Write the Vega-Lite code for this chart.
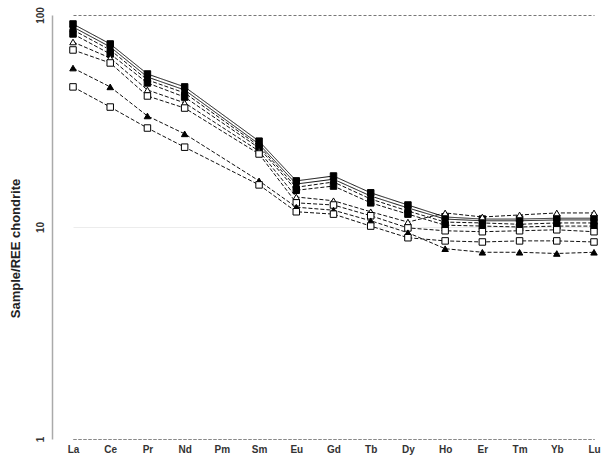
{
  "$schema": "https://vega.github.io/schema/vega-lite/v6.json",
  "autosize": {"type": "none"},
  "padding": {"left": 52, "top": 15, "right": 0, "bottom": 23},
  "width": 553,
  "height": 424,
  "background": "white",
  "config": {"view": {"stroke": null}, "font": "Liberation Sans"},
  "datasets": {
    "ree": [
      {"s": "A", "el": "La", "v": 90.7}, {"s": "A", "el": "Ce", "v": 73.0}, {"s": "A", "el": "Pr", "v": 52.7}, {"s": "A", "el": "Nd", "v": 45.8}, {"s": "A", "el": "Sm", "v": 25.4}, {"s": "A", "el": "Eu", "v": 16.5}, {"s": "A", "el": "Gd", "v": 17.4}, {"s": "A", "el": "Tb", "v": 14.5}, {"s": "A", "el": "Dy", "v": 12.7}, {"s": "A", "el": "Ho", "v": 11.15}, {"s": "A", "el": "Er", "v": 10.9}, {"s": "A", "el": "Tm", "v": 10.9}, {"s": "A", "el": "Yb", "v": 11.0}, {"s": "A", "el": "Lu", "v": 11.0},
      {"s": "B", "el": "La", "v": 87.8}, {"s": "B", "el": "Ce", "v": 70.7}, {"s": "B", "el": "Pr", "v": 51.0}, {"s": "B", "el": "Nd", "v": 44.3}, {"s": "B", "el": "Sm", "v": 24.6}, {"s": "B", "el": "Eu", "v": 15.95}, {"s": "B", "el": "Gd", "v": 16.8}, {"s": "B", "el": "Tb", "v": 14.0}, {"s": "B", "el": "Dy", "v": 12.3}, {"s": "B", "el": "Ho", "v": 10.9}, {"s": "B", "el": "Er", "v": 10.7}, {"s": "B", "el": "Tm", "v": 10.7}, {"s": "B", "el": "Yb", "v": 10.8}, {"s": "B", "el": "Lu", "v": 10.8},
      {"s": "C", "el": "La", "v": 85.0}, {"s": "C", "el": "Ce", "v": 68.4}, {"s": "C", "el": "Pr", "v": 49.4}, {"s": "C", "el": "Nd", "v": 42.9}, {"s": "C", "el": "Sm", "v": 24.1}, {"s": "C", "el": "Eu", "v": 15.4}, {"s": "C", "el": "Gd", "v": 16.3}, {"s": "C", "el": "Tb", "v": 13.55}, {"s": "C", "el": "Dy", "v": 11.9}, {"s": "C", "el": "Ho", "v": 10.55}, {"s": "C", "el": "Er", "v": 10.45}, {"s": "C", "el": "Tm", "v": 10.3}, {"s": "C", "el": "Yb", "v": 10.45}, {"s": "C", "el": "Lu", "v": 10.45},
      {"s": "D", "el": "La", "v": 81.4}, {"s": "D", "el": "Ce", "v": 65.5}, {"s": "D", "el": "Pr", "v": 47.8}, {"s": "D", "el": "Nd", "v": 41.0}, {"s": "D", "el": "Sm", "v": 23.6}, {"s": "D", "el": "Eu", "v": 14.9}, {"s": "D", "el": "Gd", "v": 15.6}, {"s": "D", "el": "Tb", "v": 13.0}, {"s": "D", "el": "Dy", "v": 11.5}, {"s": "D", "el": "Ho", "v": 10.2}, {"s": "D", "el": "Er", "v": 10.1}, {"s": "D", "el": "Tm", "v": 10.0}, {"s": "D", "el": "Yb", "v": 10.1}, {"s": "D", "el": "Lu", "v": 10.1},
      {"s": "E", "el": "La", "v": 74.6}, {"s": "E", "el": "Ce", "v": 62.7}, {"s": "E", "el": "Pr", "v": 44.3}, {"s": "E", "el": "Nd", "v": 38.5}, {"s": "E", "el": "Sm", "v": 22.8}, {"s": "E", "el": "Eu", "v": 13.85}, {"s": "E", "el": "Gd", "v": 13.3}, {"s": "E", "el": "Tb", "v": 11.8}, {"s": "E", "el": "Dy", "v": 10.55}, {"s": "E", "el": "Ho", "v": 11.65}, {"s": "E", "el": "Er", "v": 11.15}, {"s": "E", "el": "Tm", "v": 11.4}, {"s": "E", "el": "Yb", "v": 11.65}, {"s": "E", "el": "Lu", "v": 11.65},
      {"s": "F", "el": "La", "v": 68.4}, {"s": "F", "el": "Ce", "v": 59.4}, {"s": "F", "el": "Pr", "v": 41.5}, {"s": "F", "el": "Nd", "v": 36.4}, {"s": "F", "el": "Sm", "v": 22.1}, {"s": "F", "el": "Eu", "v": 13.0}, {"s": "F", "el": "Gd", "v": 12.7}, {"s": "F", "el": "Tb", "v": 11.3}, {"s": "F", "el": "Dy", "v": 9.9}, {"s": "F", "el": "Ho", "v": 9.6}, {"s": "F", "el": "Er", "v": 9.5}, {"s": "F", "el": "Tm", "v": 9.6}, {"s": "F", "el": "Yb", "v": 9.7}, {"s": "F", "el": "Lu", "v": 9.5},
      {"s": "G", "el": "La", "v": 56.2}, {"s": "G", "el": "Ce", "v": 45.8}, {"s": "G", "el": "Pr", "v": 33.4}, {"s": "G", "el": "Nd", "v": 27.5}, {"s": "G", "el": "Sm", "v": 16.5}, {"s": "G", "el": "Eu", "v": 12.4}, {"s": "G", "el": "Gd", "v": 12.0}, {"s": "G", "el": "Tb", "v": 10.7}, {"s": "G", "el": "Dy", "v": 9.4}, {"s": "G", "el": "Ho", "v": 7.9}, {"s": "G", "el": "Er", "v": 7.6}, {"s": "G", "el": "Tm", "v": 7.6}, {"s": "G", "el": "Yb", "v": 7.5}, {"s": "G", "el": "Lu", "v": 7.6},
      {"s": "H", "el": "La", "v": 45.8}, {"s": "H", "el": "Ce", "v": 36.8}, {"s": "H", "el": "Pr", "v": 29.3}, {"s": "H", "el": "Nd", "v": 23.8}, {"s": "H", "el": "Sm", "v": 15.8}, {"s": "H", "el": "Eu", "v": 11.8}, {"s": "H", "el": "Gd", "v": 11.5}, {"s": "H", "el": "Tb", "v": 10.1}, {"s": "H", "el": "Dy", "v": 8.9}, {"s": "H", "el": "Ho", "v": 8.6}, {"s": "H", "el": "Er", "v": 8.5}, {"s": "H", "el": "Tm", "v": 8.6}, {"s": "H", "el": "Yb", "v": 8.6}, {"s": "H", "el": "Lu", "v": 8.5}
    ]
  },
  "data": {"name": "ree"},
  "encoding": {
    "x": {
      "field": "el", "type": "nominal", "sort": null,
      "scale": {"type": "point", "domain": ["La", "Ce", "Pr", "Nd", "Pm", "Sm", "Eu", "Gd", "Tb", "Dy", "Ho", "Er", "Tm", "Yb", "Lu"], "range": [21, 542], "padding": 0},
      "axis": {"title": null, "labelAngle": 0, "ticks": false, "labelPadding": 5, "labelFontSize": 10, "labelFontWeight": "bold", "labelColor": "#333", "domainColor": "#888", "domainDash": [3, 2], "domainWidth": 1, "grid": false}
    },
    "y": {
      "field": "v", "type": "quantitative",
      "scale": {"type": "log", "domain": [1, 100], "nice": false},
      "axis": {
        "title": "Sample/REE chondrite", "titleFontSize": 13, "titleFontWeight": "bold", "titleColor": "#222",
        "titleAngle": -90, "titleX": -37, "titleY": 233, "titleAlign": "center", "titleBaseline": "middle",
        "values": [1, 10, 100], "format": "d", "ticks": false,
        "labelAngle": -90, "labelAlign": "center", "labelBaseline": "alphabetic", "labelPadding": 9,
        "labelFontSize": 10, "labelFontWeight": "bold", "labelColor": "#333",
        "domainColor": "#aaa", "domainWidth": 1.5,
        "grid": true,
        "gridColor": {"condition": {"test": "datum.value === 10", "value": "#ececec"}, "value": "#777"},
        "gridDash": {"condition": {"test": "datum.value === 10", "value": []}, "value": [3, 2]},
        "gridWidth": 1
      }
    }
  },
  "layer": [
    {
      "mark": {"type": "line", "strokeWidth": 1, "color": "#111"},
      "encoding": {
        "detail": {"field": "s", "type": "nominal"},
        "strokeDash": {"field": "s", "type": "nominal", "legend": null,
          "scale": {"domain": ["A", "B", "C", "D", "E", "F", "G", "H"], "range": [[1, 0], [1, 0], [4, 2], [4, 2], [4, 2], [4, 2], [4, 2], [4, 2]]}}
      }
    },
    {
      "mark": {"type": "point", "strokeWidth": 1, "stroke": "black", "opacity": 1, "size": 42},
      "encoding": {
        "shape": {"field": "s", "type": "nominal", "legend": null,
          "scale": {"domain": ["A", "B", "C", "D", "E", "F", "G", "H"], "range": ["square", "diamond", "circle", "square", "triangle-up", "square", "triangle-up", "square"]}},
        "fill": {"field": "s", "type": "nominal", "legend": null,
          "scale": {"domain": ["A", "B", "C", "D", "E", "F", "G", "H"], "range": ["black", "black", "black", "black", "white", "white", "black", "white"]}}
      }
    }
  ]
}
